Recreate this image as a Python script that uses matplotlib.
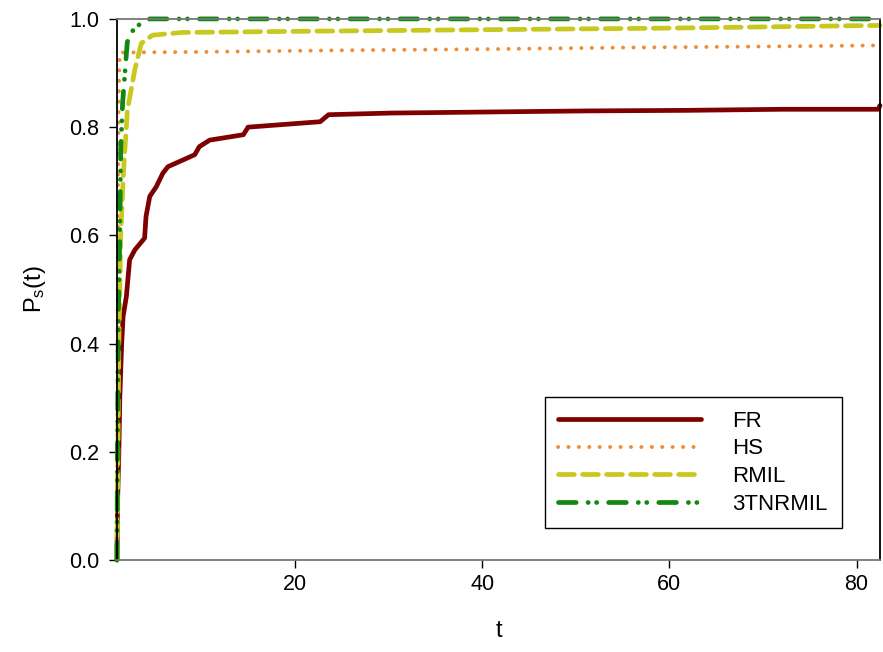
import matplotlib
matplotlib.use("Agg")
import matplotlib.pyplot as plt

plt.rcParams['font.family'] = ['Liberation Sans', 'DejaVu Sans']
plt.rcParams['mathtext.fontset'] = 'custom'
plt.rcParams['mathtext.rm'] = 'Liberation Sans'
plt.rcParams['mathtext.it'] = 'Liberation Sans'
plt.rcParams['lines.scale_dashes'] = False

labels = ["FR", "HS", "RMIL", "3TNRMIL"]

t_FR = [1.0, 1.05, 1.2, 1.3, 1.5, 1.65, 2.0, 2.35, 2.9, 3.95, 4.1, 4.5, 5.2, 5.9, 6.45,
        9.3, 9.8, 10.9, 14.5, 15.0, 22.7, 23.6, 30.2, 40.6, 51.3, 61.7, 72.0, 82.3, 82.5]
p_FR = [0.0, 0.1, 0.2, 0.3, 0.4, 0.45, 0.487, 0.555, 0.573, 0.595, 0.635, 0.672, 0.69, 0.715, 0.727,
        0.749, 0.764, 0.776, 0.786, 0.80, 0.81, 0.823, 0.826, 0.828, 0.83, 0.831, 0.833, 0.833, 0.84]

t_HS = [1.0, 1.02, 1.05, 1.08, 1.12, 1.18, 1.25, 1.35, 10, 25, 40, 55, 70, 82.5]
p_HS = [0.0, 0.15, 0.35, 0.55, 0.72, 0.85, 0.92, 0.938, 0.939, 0.942, 0.944, 0.947, 0.949, 0.951]

t_RMIL = [1.0, 1.1, 1.2, 1.4, 1.7, 2.0, 2.1, 2.9, 3.6, 4.8, 8, 20, 40, 60, 82.5]
p_RMIL = [0.0, 0.2, 0.4, 0.6, 0.72, 0.8, 0.83, 0.906, 0.955, 0.97, 0.975, 0.977, 0.98, 0.983, 0.988]

t_3T = [1.0, 1.05, 1.15, 1.3, 1.4, 1.6, 2.1, 2.55, 3.6, 4.5, 82.5]
p_3T = [0.0, 0.2, 0.45, 0.6, 0.76, 0.845, 0.957, 0.976, 0.993, 1.0, 1.0]

xticks = [20, 40, 60, 80]
yticks = [0.0, 0.2, 0.4, 0.6, 0.8, 1.0]

fig = plt.figure(figsize=(8.83, 6.52), dpi=100)
ax = fig.add_axes([0.1325, 0.141, 0.8641, 0.830])

ax.plot(t_FR, p_FR, color='#7f0000', lw=3.4, solid_capstyle='round', label=labels[0], clip_on=False)
ax.plot(t_HS, p_HS, color='#f08c32', lw=2.8, linestyle=(0, (0.1, 7.4)), dash_capstyle='round',
        label=labels[1], clip_on=False)
ax.plot(t_RMIL, p_RMIL, color='#c8c81e', lw=3.4, linestyle=(0, (11.4, 5.9)), dash_capstyle='round',
        label=labels[2], clip_on=False)
ax.plot(t_3T, p_3T, color='#118811', lw=3.4, linestyle=(0, (12.7, 8.6, 0.1, 6.0, 0.1, 8.6)),
        dash_capstyle='round', label=labels[3], clip_on=False)

ax.set_xlim(1, 82.5)
ax.set_ylim(0, 1.0)
ax.set_xticks(xticks)
ax.set_yticks(yticks)
ax.set_yticklabels([f"{v:.1f}" for v in yticks])
ax.tick_params(direction='out', length=6, width=1, labelsize=15.5, colors='black')
ax.tick_params(axis='y', pad=7)
ax.tick_params(axis='x', pad=4)

ax.spines['left'].set_color('black')
ax.spines['right'].set_color('black')
ax.spines['bottom'].set_color('#777777')
ax.spines['top'].set_color('#777777')
for s in ax.spines.values():
    s.set_linewidth(1.3)

ax.set_xlabel('t', fontsize=17, labelpad=18)
ax.set_ylabel(r'P$_\mathregular{s}$(t)', fontsize=17, labelpad=15)

leg = ax.legend(loc='lower left', bbox_to_anchor=(0.561, 0.059, 0.389, 0.246), mode='expand',
                fontsize=16, handlelength=6.4, handletextpad=1.4, labelspacing=0.3,
                borderpad=0.6, borderaxespad=0, fancybox=False, framealpha=1, edgecolor='black')
leg.get_frame().set_linewidth(1.0)

fig.savefig('out.png', dpi=100)
